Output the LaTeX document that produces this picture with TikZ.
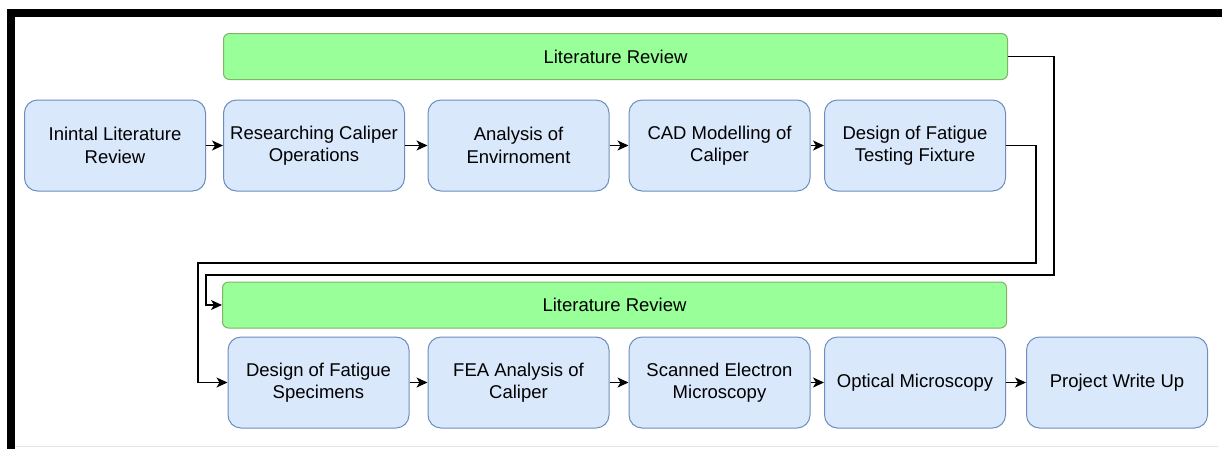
\documentclass[tikz,border=0pt]{standalone}
\usepackage{fontspec}
\setmainfont{Liberation Sans}
\usetikzlibrary{arrows.meta}
\definecolor{boxfill}{HTML}{DAE8FC}
\definecolor{boxline}{HTML}{6C8EBF}
\definecolor{revfill}{HTML}{99FF99}
\definecolor{revline}{HTML}{82B366}
\begin{document}
\begin{tikzpicture}[x=1pt,y=-1pt,
  stage/.style={draw=boxline,fill=boxfill,rounded corners=13pt,line width=1pt,
    minimum width=181pt,minimum height=91pt,inner sep=0pt,align=center,
    font=\fontsize{18.5}{22.5}\selectfont},
  review/.style={draw=revline,fill=revfill,rounded corners=6pt,line width=1pt,
    minimum width=784pt,minimum height=46pt,font=\fontsize{18.5}{22.5}\selectfont},
  flow/.style={line width=1.3pt,-{Stealth[length=11pt,width=10pt,inset=3pt]}}]
\useasboundingbox (0,0) rectangle (1222,448);
\clip (0,0) rectangle (1222,448);
%
\draw[line width=8pt] (11,13) rectangle (1226,470);
\draw[black!10] (15,446.5) -- (1218,446.5);
%
\node[review] (litA) at (615.5,56.5) {Literature Review};
\foreach \n/\x/\t in {ini/115/{Inintal Literature\\Review},
  cal/314/{Researching Caliper\\Operations},
  env/518.5/{Analysis of\\Envirnoment},
  cad/719.5/{CAD Modelling of\\Caliper},
  fix/915/{Design of Fatigue\\Testing Fixture}}
  {\node[stage] (\n) at (\x,145.5) {\t};}
\foreach \a/\b in {ini/cal,cal/env,env/cad,cad/fix}{\draw[flow] (\a) -- (\b);}
%===========================
\node[review] (litB) at (614.5,305) {Literature Review};
\foreach \n/\x/\t in {spec/318.5/{Design of Fatigue\\Specimens},
  fea/518.5/{FEA Analysis of\\Caliper},
  sem/719.5/{Scanned Electron\\Microscopy},
  opt/915/{Optical Microscopy},
  wri/1117/{Project Write Up}}
  {\node[stage] (\n) at (\x,382.5) {\t};}
\foreach \a/\b in {spec/fea,fea/sem,sem/opt,opt/wri}{\draw[flow] (\a) -- (\b);}
%================================
\coordinate (litR) at (1054,275);
\coordinate (litL) at (206,275);
\draw[flow] (litA.east) -| (litR) -- (litL) |- (litB.west);
%
\coordinate (fixR) at (1036,263);
\coordinate (fixL) at (198,263);
\draw[flow] (fix.east) -| (fixR) -- (fixL) |- (spec.west);
\end{tikzpicture}
\end{document}
